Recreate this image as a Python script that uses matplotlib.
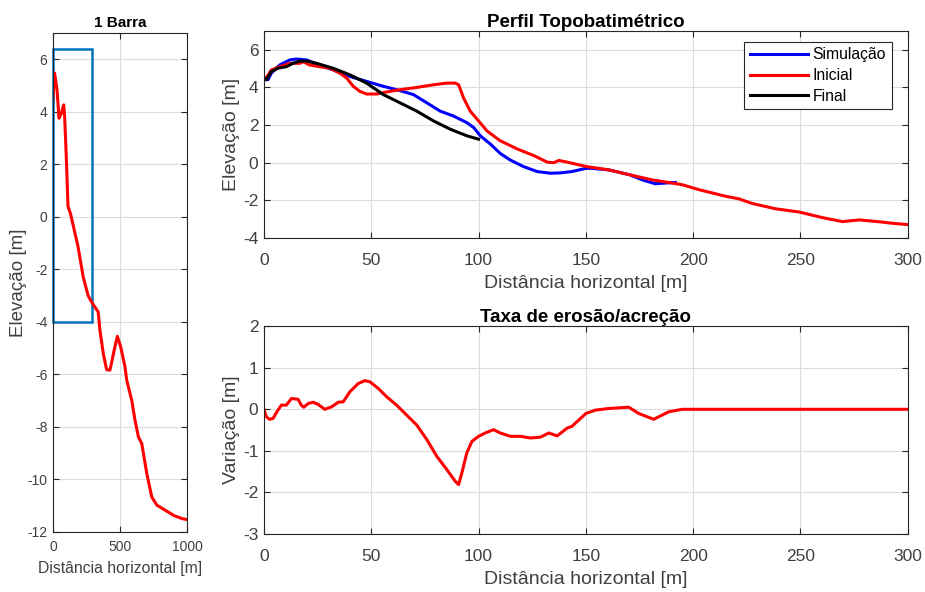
import numpy as np
import matplotlib
matplotlib.use("Agg")
import matplotlib.pyplot as plt
from matplotlib.patches import Rectangle

plt.rcParams['font.family'] = ['Liberation Sans', 'DejaVu Sans']
plt.rcParams['axes.unicode_minus'] = False

# --- data ---
# left panel: full profile (1 Barra)
bar_x = [0, 12, 30, 45, 62, 80, 87, 100, 112, 130, 187, 225, 262, 287, 337, 350, 375,
         400, 425, 462, 480, 505, 537, 550, 587, 612, 637, 662, 700, 737, 775, 837,
         900, 962, 1000]
bar_y = [4.5, 5.47, 4.83, 3.75, 3.94, 4.26, 3.8, 2.16, 0.39, 0.13, -1.14, -2.28, -3.0,
         -3.24, -3.62, -4.32, -5.2, -5.82, -5.84, -4.95, -4.55, -4.95, -5.71, -6.22,
         -6.98, -7.75, -8.38, -8.63, -9.78, -10.67, -10.98, -11.17, -11.37, -11.49, -11.53]
box_x = [0, 290]
box_y = [-4, 6.37]

# top right: profiles
ini_x = [0, 1.1, 3.4, 7.3, 12, 16.7, 18.2, 21.3, 26, 30.7, 35.4, 38.5, 41.6, 44.7, 47.8,
         52.5, 57.2, 63.4, 71.2, 79, 85.2, 89.1, 90.7, 93, 96.1, 100, 103.9, 110, 118,
         125.7, 132, 135, 137.4, 141.3, 150, 160.6, 170.7, 180.8, 194.9, 202.6, 215,
         221.3, 227.6, 238.5, 249.4, 260.3, 269.6, 277.4, 286.8, 293, 300]
ini_y = [4.58, 4.5, 4.93, 5.1, 5.28, 5.28, 5.37, 5.19, 5.1, 5.02, 4.76, 4.5, 4.06, 3.79,
         3.65, 3.65, 3.76, 3.88, 4.0, 4.14, 4.23, 4.23, 4.14, 3.44, 2.74, 2.22, 1.69,
         1.17, 0.73, 0.38, 0.03, 0.0, 0.12, 0.03, -0.2, -0.38, -0.65, -0.91, -1.17,
         -1.43, -1.78, -1.92, -2.17, -2.45, -2.62, -2.92, -3.13, -3.04, -3.14, -3.22, -3.29]

sim_x = [0, 1.9, 3.4, 7.3, 12, 15.1, 19.8, 26, 32.2, 40, 47.8, 55.6, 63.4, 69.6, 75.9,
         82.1, 88.3, 94.5, 97.7, 100.8, 105.5, 110.1, 114.8, 121, 127.3, 133.5, 138.2,
         143.5, 150, 152.8, 160.6, 170.7, 176.2, 182.4, 187.1, 191.7]
sim_y = [4.5, 4.41, 4.76, 5.19, 5.46, 5.51, 5.46, 5.19, 4.93, 4.58, 4.32, 4.06, 3.83,
         3.62, 3.18, 2.74, 2.48, 2.13, 1.87, 1.43, 0.99, 0.49, 0.14, -0.21, -0.47, -0.56,
         -0.54, -0.47, -0.3, -0.3, -0.38, -0.65, -0.91, -1.12, -1.08, -1.05]

fin_x = [0, 1.1, 3.4, 6.5, 10.4, 13.5, 16.7, 19.8, 24.5, 32.2, 40, 47.8, 55.6, 63.4,
         71.2, 79, 86.8, 94.5, 100]
fin_y = [4.5, 4.4, 4.84, 5.02, 5.1, 5.28, 5.4, 5.4, 5.28, 5.02, 4.67, 4.23, 3.62, 3.18,
         2.74, 2.22, 1.78, 1.43, 1.25]

# bottom right: erosion / accretion
var_x = [0, 1.1, 2.6, 4.2, 6.5, 8.1, 10.4, 12.8, 15.9, 17.4, 18.5, 20.6, 22.9, 25.2, 28.3,
         31.5, 34.6, 36.9, 40, 43.9, 47, 49.4, 53.3, 57.2, 61.8, 66.5, 71.2, 75.9, 80.5,
         85.2, 89.1, 90.7, 92.2, 94.5, 96.9, 100, 103.1, 107, 110.1, 114.8, 119.5, 124.1,
         128.8, 132.7, 136.6, 141.3, 143.5, 150, 154.4, 160.6, 170, 174.6, 181.6, 188.6,
         194.8, 300]
var_y = [0, -0.18, -0.24, -0.22, -0.02, 0.1, 0.1, 0.26, 0.24, 0.1, 0.05, 0.14, 0.17, 0.12,
         0, 0.06, 0.17, 0.18, 0.42, 0.62, 0.69, 0.66, 0.5, 0.3, 0.1, -0.14, -0.38, -0.73,
         -1.13, -1.45, -1.73, -1.81, -1.53, -1.05, -0.77, -0.65, -0.57, -0.49, -0.57, -0.65,
         -0.65, -0.69, -0.67, -0.57, -0.64, -0.45, -0.41, -0.1, -0.02, 0.02, 0.05, -0.1,
         -0.24, -0.06, 0, 0]

TXT = '#404040'


def matlab_style(ax, size, xpad):
	ax.grid(True, color='#dcdcdc', linewidth=0.8)
	ax.set_axisbelow(True)
	ax.tick_params(direction='in', top=True, right=True, labelsize=size,
		labelcolor=TXT, color='#262626', length=4)
	ax.tick_params(axis='x', pad=xpad)
	ax.tick_params(axis='y', pad=4)
	for s in ax.spines.values():
		s.set_color('#262626')
		s.set_linewidth(0.8)


fig = plt.figure(figsize=(9.25, 5.92), dpi=100)

# left panel
ax1 = fig.add_axes([0.0573, 0.1014, 0.1449, 0.843])
ax1.plot(bar_x, bar_y, color='#ff0000', lw=2.2)
ax1.add_patch(Rectangle((box_x[0], box_y[0]), box_x[1] - box_x[0], box_y[1] - box_y[0],
	fill=False, edgecolor='#0072bd', lw=1.8, clip_on=False))
ax1.set_xlim(0, 1000)
ax1.set_ylim(-12, 7)
ax1.set_xticks([0, 500, 1000])
ax1.set_yticks(np.arange(-12, 7, 2))
ax1.set_title('1 Barra', fontsize=11, fontweight='bold', pad=4)
ax1.set_xlabel('Distância horizontal [m]', fontsize=11.3, color=TXT, labelpad=5)
ax1.set_ylabel('Elevação [m]', fontsize=13.5, color=TXT, labelpad=0)
matlab_style(ax1, 10, 6)

# top right
ax2 = fig.add_axes([0.2854, 0.598, 0.696, 0.3497])
ax2.plot(sim_x, sim_y, color='#0000ff', lw=2.2, label='Simulação')
ax2.plot(ini_x, ini_y, color='#ff0000', lw=2.2, label='Inicial')
ax2.plot(fin_x, fin_y, color='black', lw=2.2, label='Final')
ax2.set_xlim(0, 300)
ax2.set_ylim(-4, 7)
ax2.set_yticks(np.arange(-4, 7, 2))
ax2.set_title('Perfil Topobatimétrico', fontsize=13.5, fontweight='bold', pad=3)
ax2.set_xlabel('Distância horizontal [m]', fontsize=14, color=TXT, labelpad=5)
ax2.set_ylabel('Elevação [m]', fontsize=14, color=TXT, labelpad=2)
leg = ax2.legend(loc='upper right', bbox_to_anchor=(0.975, 0.947), fontsize=11.3,
	fancybox=False, framealpha=1, edgecolor='#262626', handlelength=3.7,
	handletextpad=0.3, borderpad=0.35, labelspacing=0.36, borderaxespad=0)
leg.get_frame().set_linewidth(0.8)
matlab_style(ax2, 12.5, 11)

# bottom right
ax3 = fig.add_axes([0.2854, 0.098, 0.696, 0.351])
ax3.plot(var_x, var_y, color='#ff0000', lw=2.2)
ax3.set_xlim(0, 300)
ax3.set_ylim(-3, 2)
ax3.set_yticks(np.arange(-3, 3, 1))
ax3.set_title('Taxa de erosão/acreção', fontsize=13.5, fontweight='bold', pad=3)
ax3.set_xlabel('Distância horizontal [m]', fontsize=14, color=TXT, labelpad=5)
ax3.set_ylabel('Variação [m]', fontsize=14, color=TXT, labelpad=2)
matlab_style(ax3, 12.5, 11)

fig.savefig('out.png', dpi=100)
